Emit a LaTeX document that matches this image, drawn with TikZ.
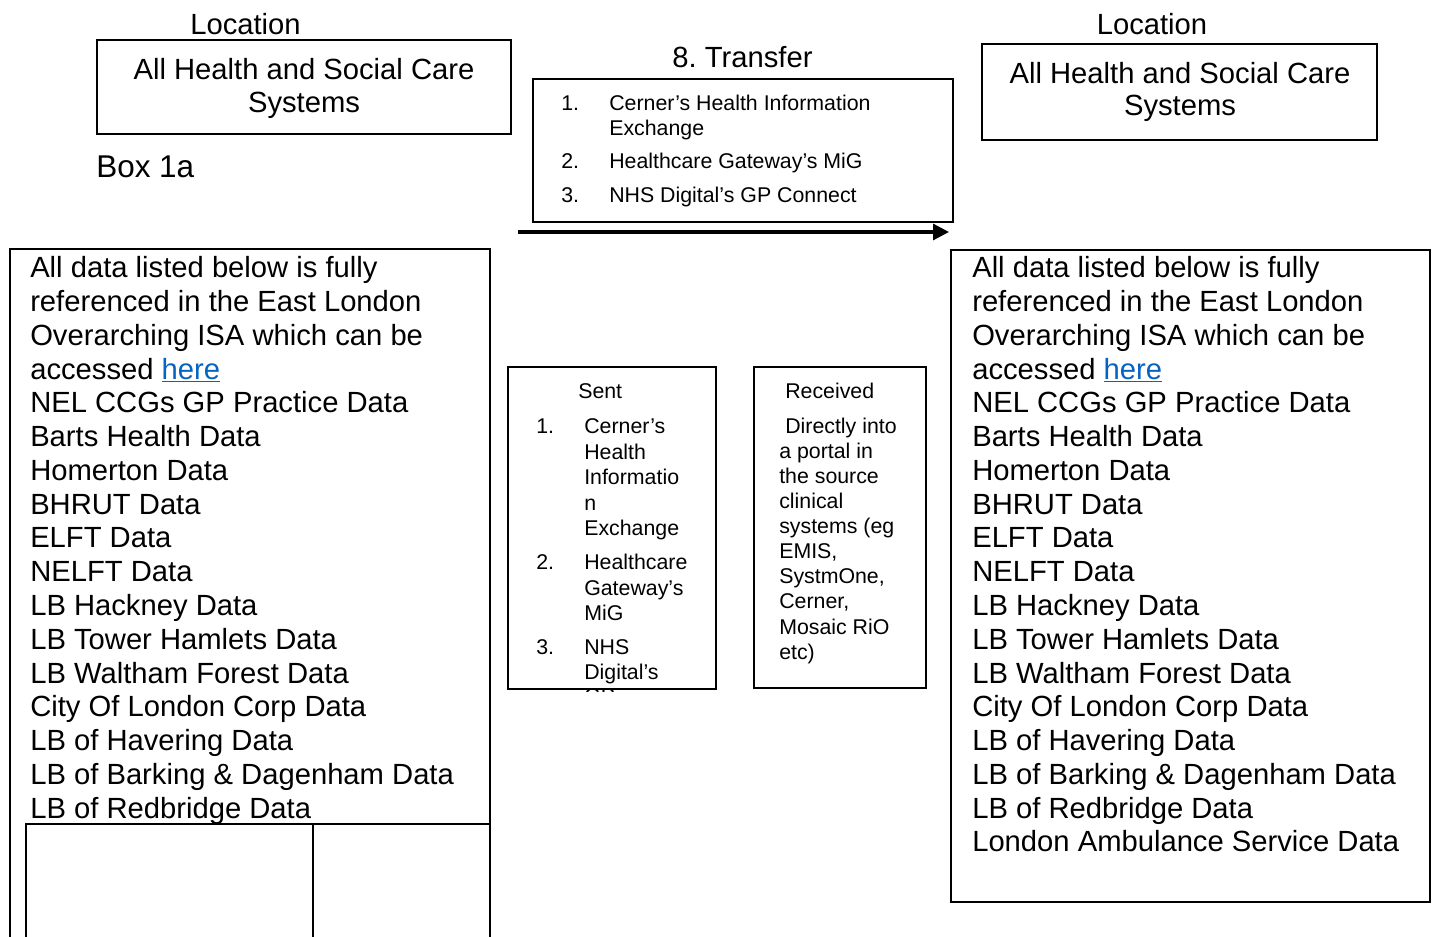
\documentclass[tikz,border=0pt]{standalone}
\usepackage{fontspec}
\setmainfont{Liberation Sans}
\usetikzlibrary{positioning,arrows.meta}
\definecolor{linkblue}{HTML}{0563C1}
\newcommand{\hyperword}[1]{\textcolor{linkblue}{\underline{#1}}}
\frenchspacing

\tikzset{
  boxline/.style={draw=black, line width=1.3pt},
  bigtxt/.style={anchor=base west, inner sep=0pt, font=\fontsize{21.9}{26}\selectfont},
  headtxt/.style={anchor=base, inner sep=0pt, font=\fontsize{21.9}{26}\selectfont},
  smalltxt/.style={anchor=base west, inner sep=0pt, font=\fontsize{16}{19}\selectfont},
  flow/.style={line width=2.4pt, -{Triangle[length=12pt,width=12pt]}}
}

\begin{document}
\begin{tikzpicture}[x=0.75pt,y=-0.75pt]
  \useasboundingbox (0,0) rectangle (1432,937);

  % location headers
  \node[headtxt] (locL) at (245.5,35) {Location};
  \node[headtxt] (locR) at (1152,35) {Location};
  \draw[boxline] (97,40) rectangle (511,134);
  \node[headtxt] (sysL1) at (304,80) {All Health and Social Care};
  \node[headtxt] (sysL2) at (304,113) {Systems};
  \draw[boxline] (982,44) rectangle (1377,140);
  \node[headtxt] (sysR1) at (1180,84) {All Health and Social Care};
  \node[headtxt] (sysR2) at (1180,116) {Systems};
  \node[bigtxt, font=\fontsize{23.6}{28}\selectfont] (box1a) at (96,178) {Box 1a};

  % transfer box
  \node[headtxt] (trTitle) at (742.5,68) {8. Transfer};
  \draw[boxline] (533,79) rectangle (953,222);
  \node[smalltxt] (trN1) at (561,111) {1.};
  \node[smalltxt] (trA1) at (609,111) {Cerner’s Health Information};
  \node[smalltxt] (trA2) at (609,136) {Exchange};
  \node[smalltxt] (trN2) at (561,169) {2.};
  \node[smalltxt] (trB1) at (609,169) {Healthcare Gateway’s MiG};
  \node[smalltxt] (trN3) at (561,203) {3.};
  \node[smalltxt] (trC1) at (609,203) {NHS Digital’s GP Connect};
  \coordinate (arrS) at (518,232);
  \coordinate (arrE) at (949,232);
  \draw[flow] (arrS) -- (arrE);

  % data boxes
  \draw[boxline] (10,960) -- (10,249) -- (490,249) -- (490,960);
  \draw[boxline] (26,960) -- (26,824) -- (489,824);
  \draw[boxline] (313,824) -- (313,960);
  \draw[boxline] (951,250) rectangle (1430,902);
  \foreach \bx/\side in {30/L,972/R} {
    \foreach \txt [count=\i] in {All data listed below is fully,
        referenced in the East London, Overarching ISA which can be,
        accessed \hyperword{here}, NEL CCGs GP Practice Data,
        Barts Health Data, Homerton Data, BHRUT Data, ELFT Data,
        NELFT Data, LB Hackney Data, LB Tower Hamlets Data,
        LB Waltham Forest Data, City Of London Corp Data,
        LB of Havering Data, LB of Barking \& Dagenham Data,
        LB of Redbridge Data}
      \node[bigtxt] (\side\i) at (\bx,{278+33.75*(\i-1)}) {\txt};
  }
  \node[bigtxt] (R18) at (972,851.75) {London Ambulance Service Data};

  % sent box
  \begin{scope}
    \clip (508,367) rectangle (716,691);
    \node[smalltxt] (sentHd) at (578,399) {Sent};
    \node[smalltxt] (sN1) at (536,434) {1.};
    \node[smalltxt] (sN2) at (536,570) {2.};
    \node[smalltxt] (sN3) at (536,654) {3.};
    \foreach \txt/\yy [count=\i] in {Cerner’s/434, Health/459.5, Informatio/485,
        n/510.5, Exchange/536, Healthcare/570, Gateway’s/595, MiG/620,
        NHS/654, Digital’s/679, GP/703}
      \node[smalltxt] (sT\i) at (584,\yy) {\txt};
  \end{scope}
  \draw[boxline] (508,367) rectangle (716,689);

  % received box
  \draw[boxline] (754,367) rectangle (926,688);
  \node[smalltxt] (recvHd) at (785,399) {Received};
  \node[smalltxt] (rT1) at (785,434) {Directly into};
  \foreach \txt [count=\i from 2] in {a portal in, the source, clinical,
      systems (eg, {EMIS,}, {SystmOne,}, {Cerner,}, Mosaic RiO, etc)}
    \node[smalltxt] (rT\i) at (779,{434+25*(\i-1)}) {\txt};
\end{tikzpicture}
\end{document}
